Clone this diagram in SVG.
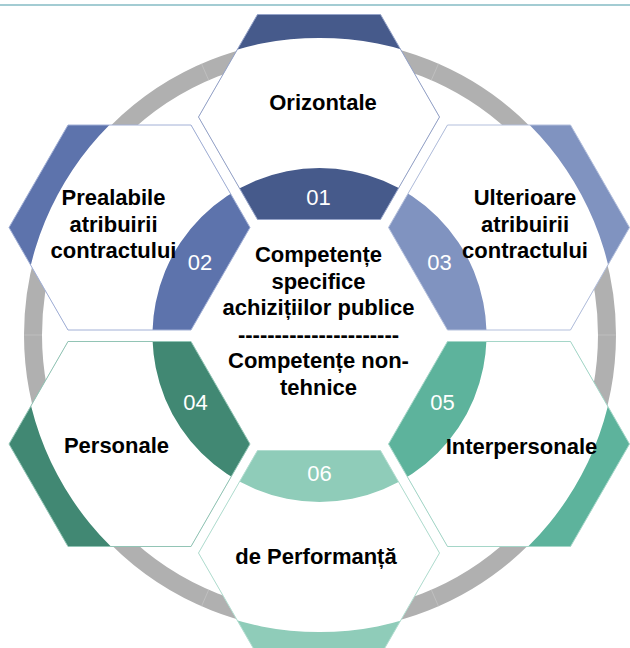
<svg xmlns="http://www.w3.org/2000/svg" width="630" height="648" viewBox="0 0 630 648">
<style>
.lbl{font-family:"Liberation Sans",Arial,sans-serif;font-weight:bold;font-size:22px;fill:#000;text-anchor:middle}
.num{font-family:"Liberation Sans",Arial,sans-serif;font-size:22px;fill:#fff;text-anchor:middle}
.ann{fill:#fff;fill-rule:evenodd}
.seg{stroke:#c6c6c6;stroke-width:0.7}
</style>
<defs>
<path id="annulus" d="M22.5 335a297 297 0 1 0 594 0a297 297 0 1 0 -594 0ZM152.5 335a167 167 0 1 0 334 0a167 167 0 1 0 -334 0Z"/>
<clipPath id="cT"><polygon points="198.5,117 257.5,14.5 380.5,14.5 439.5,117 380.5,219.5 257.5,219.5"/></clipPath>
<clipPath id="cLU"><polygon points="9,227.5 68,125 191,125 250,227.5 191,330 68,330"/></clipPath>
<clipPath id="cRU"><polygon points="388.5,227.5 447.5,125 570.5,125 629.5,227.5 570.5,330 447.5,330"/></clipPath>
<clipPath id="cLD"><polygon points="9,444 68,341.5 191,341.5 250,444 191,546.5 68,546.5"/></clipPath>
<clipPath id="cRD"><polygon points="388.5,444 447.5,341.5 570.5,341.5 629.5,444 570.5,546.5 447.5,546.5"/></clipPath>
<clipPath id="cB"><polygon points="198.5,553 257.5,450.5 380.5,450.5 439.5,553 380.5,655.5 257.5,655.5"/></clipPath>
</defs>
<rect width="630" height="648" fill="#fff"/>
<line x1="0" y1="5" x2="630" y2="5" stroke="#a3ccd3" stroke-width="2.2"/>
<g id="ring">
<circle cx="320" cy="335" r="287" fill="none" stroke="#b0b0b0" stroke-width="18"/>
<line class="seg" x1="598" y1="335" x2="616" y2="335"/>
<line class="seg" x1="24" y1="335" x2="42" y2="335"/>
<line class="seg" x1="208.7" y1="80.2" x2="201.5" y2="63.7"/>
<line class="seg" x1="431.3" y1="80.2" x2="438.5" y2="63.7"/>
<line class="seg" x1="208.7" y1="589.8" x2="201.5" y2="606.3"/>
<line class="seg" x1="431.3" y1="589.8" x2="438.5" y2="606.3"/>
</g>
<g id="node-orizontale">
<polygon points="198.5,117 257.5,14.5 380.5,14.5 439.5,117 380.5,219.5 257.5,219.5" fill="#465a8b"/>
<use href="#annulus" class="ann" clip-path="url(#cT)"/>
<polygon points="198.5,117 257.5,14.5 380.5,14.5 439.5,117 380.5,219.5 257.5,219.5" fill="none" stroke="#95a3c8" stroke-width="1"/>
<text class="num" x="318.5" y="205">01</text>
<text class="lbl" x="323" y="110">Orizontale</text>
</g>
<g id="node-prealabile">
<polygon points="9,227.5 68,125 191,125 250,227.5 191,330 68,330" fill="#5d73ac"/>
<use href="#annulus" class="ann" clip-path="url(#cLU)"/>
<polygon points="9,227.5 68,125 191,125 250,227.5 191,330 68,330" fill="none" stroke="#a2b0d6" stroke-width="1"/>
<text class="num" x="200" y="270">02</text>
<text class="lbl" x="113.5" y="205">Prealabile</text>
<text class="lbl" x="113.5" y="231.5">atribuirii</text>
<text class="lbl" x="113.5" y="258">contractului</text>
</g>
<g id="node-ulterioare">
<polygon points="388.5,227.5 447.5,125 570.5,125 629.5,227.5 570.5,330 447.5,330" fill="#8093c0"/>
<use href="#annulus" class="ann" clip-path="url(#cRU)"/>
<polygon points="388.5,227.5 447.5,125 570.5,125 629.5,227.5 570.5,330 447.5,330" fill="none" stroke="#b3bfdc" stroke-width="1"/>
<text class="num" x="439.5" y="270">03</text>
<text class="lbl" x="525" y="205">Ulterioare</text>
<text class="lbl" x="525" y="231.5">atribuirii</text>
<text class="lbl" x="525" y="258">contractului</text>
</g>
<g id="node-personale">
<polygon points="9,444 68,341.5 191,341.5 250,444 191,546.5 68,546.5" fill="#418873"/>
<use href="#annulus" class="ann" clip-path="url(#cLD)"/>
<polygon points="9,444 68,341.5 191,341.5 250,444 191,546.5 68,546.5" fill="none" stroke="#92c4b5" stroke-width="1"/>
<text class="num" x="195.5" y="410">04</text>
<text class="lbl" x="116.5" y="453">Personale</text>
</g>
<g id="node-interpersonale">
<polygon points="388.5,444 447.5,341.5 570.5,341.5 629.5,444 570.5,546.5 447.5,546.5" fill="#5db39c"/>
<use href="#annulus" class="ann" clip-path="url(#cRD)"/>
<polygon points="388.5,444 447.5,341.5 570.5,341.5 629.5,444 570.5,546.5 447.5,546.5" fill="none" stroke="#a5d6c8" stroke-width="1"/>
<text class="num" x="442.5" y="410">05</text>
<text class="lbl" x="521.5" y="454">Interpersonale</text>
</g>
<g id="node-performanta">
<polygon points="198.5,553 257.5,450.5 380.5,450.5 439.5,553 380.5,655.5 257.5,655.5" fill="#8fccb9"/>
<use href="#annulus" class="ann" clip-path="url(#cB)"/>
<polygon points="198.5,553 257.5,450.5 380.5,450.5 439.5,553 380.5,655.5 257.5,655.5" fill="none" stroke="#b2ddd0" stroke-width="1"/>
<text class="num" x="319.5" y="481">06</text>
<text class="lbl" x="316" y="563.5">de Performanță</text>
</g>
<g id="center">
<text class="lbl" x="318.5" y="262">Competențe</text>
<text class="lbl" x="318.5" y="288.5">specifice</text>
<text class="lbl" x="318.5" y="315">achizițiilor publice</text>
<text class="lbl" x="318.5" y="341.5">----------------------</text>
<text class="lbl" x="318.5" y="368">Competențe non-</text>
<text class="lbl" x="318.5" y="394.5">tehnice</text>
</g>
<g id="connectors"/>
</svg>
